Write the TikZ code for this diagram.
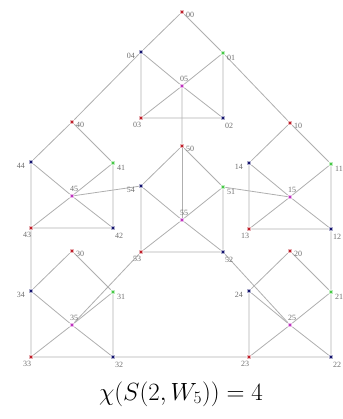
\documentclass[tikz,border=0pt]{standalone}
\usepackage{fontspec}
\setmainfont{Liberation Serif}
\usetikzlibrary{backgrounds}
\definecolor{vred}{RGB}{190,30,40}
\definecolor{vblue}{RGB}{20,20,110}
\definecolor{vgreen}{RGB}{70,200,70}
\definecolor{vmag}{RGB}{190,50,190}
\definecolor{edgegray}{RGB}{175,175,175}
\definecolor{labgray}{RGB}{110,110,110}
\newcommand\mkcluster[3]{%
  \node[vtx=vred]   (v#10) at (#2,#3) {};
  \node[vtx=vblue]  (v#14) at (#2-41,#3+40) {};
  \node[vtx=vgreen] (v#11) at (#2+41,#3+41) {};
  \node[vtx=vmag]   (v#15) at (#2,#3+74) {};
  \node[vtx=vred]   (v#13) at (#2-41,#3+106) {};
  \node[vtx=vblue]  (v#12) at (#2+41,#3+106) {};
  \node[lab,anchor=west] (l#10) at (#2+4,#3+3) {#10};
  \node[lab,anchor=east] (l#14) at (#2-47,#3+44) {#14};
  \node[lab,anchor=west] (l#11) at (#2+45,#3+46) {#11};
  \node[lab] (l#15) at (#2+2,#3+67) {#15};
  \node[lab] (l#13) at (#2-45,#3+113) {#13};
  \node[lab] (l#12) at (#2+47,#3+114) {#12};
}
\newcommand\mkedges[1]{%
  \draw[edge] (v#10)--(v#14) (v#10)--(v#11) (v#14)--(v#13) (v#11)--(v#12)
    (v#13)--(v#12) (v#14)--(v#15) (v#15)--(v#12) (v#11)--(v#15) (v#15)--(v#13);
}
\begin{document}
\begin{tikzpicture}[x=1pt,y=-1pt,
  vtx/.style={rectangle, fill=#1, draw=#1!35, line width=1.3pt, minimum size=3.4pt, inner sep=0pt},
  lab/.style={text=labgray, font=\fontsize{8}{8}\selectfont, inner sep=0pt},
  edge/.style={draw=edgegray, line width=0.8pt}]
\useasboundingbox (0,0) rectangle (342,419);
\mkcluster{0}{182}{12}
\mkcluster{4}{72}{122}
\mkcluster{1}{290}{123}
\mkcluster{5}{182}{146}
\mkcluster{3}{72}{251}
\mkcluster{2}{290}{251}
\begin{scope}[on background layer]
\mkedges{0}\mkedges{4}\mkedges{1}\mkedges{5}\mkedges{3}\mkedges{2}
\draw[edge] (v50)--(v55);
\draw[edge] (v04)--(v40) (v01)--(v10) (v12)--(v21) (v23)--(v32) (v34)--(v43);
\draw[edge] (v05)--(v50) (v15)--(v51) (v25)--(v52) (v35)--(v53) (v45)--(v54);
\end{scope}
\node[anchor=base] (cap) at (181,400) {\fontsize{25}{25}\selectfont $\chi\bigl(S(2,W_5)\bigr)=4$};
\end{tikzpicture}
\end{document}
